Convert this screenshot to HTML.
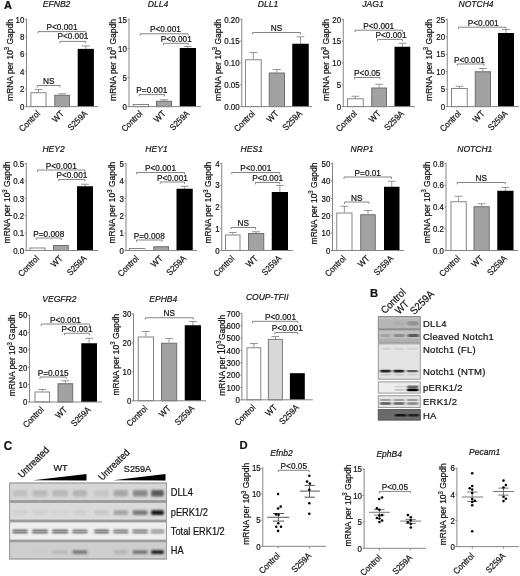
<!DOCTYPE html>
<html><head><meta charset="utf-8"><style>
html,body{margin:0;padding:0;background:#fff;}
svg{display:block;filter:grayscale(1);}
text{font-family:"Liberation Sans", sans-serif;stroke:#1a1a1a;stroke-width:0.22px;paint-order:stroke;}
</style></head><body>
<svg width="520" height="576" viewBox="0 0 520 576" font-family='"Liberation Sans", sans-serif'>
<rect width="520" height="576" fill="#fff"/>
<line x1="38.45" y1="92.20" x2="38.45" y2="89.60" stroke="#8a8a8a" stroke-width="0.9"/>
<line x1="34.55" y1="89.60" x2="42.35" y2="89.60" stroke="#8a8a8a" stroke-width="0.9"/>
<rect x="30.90" y="92.70" width="15.10" height="13.90" fill="#ffffff" stroke="#858585" stroke-width="1"/>
<line x1="62.15" y1="94.80" x2="62.15" y2="93.80" stroke="#8a8a8a" stroke-width="0.9"/>
<line x1="58.25" y1="93.80" x2="66.05" y2="93.80" stroke="#8a8a8a" stroke-width="0.9"/>
<rect x="54.80" y="95.30" width="14.70" height="11.30" fill="#a2a2a2" stroke="#6e6e6e" stroke-width="1"/>
<line x1="85.80" y1="48.90" x2="85.80" y2="45.90" stroke="#8a8a8a" stroke-width="0.9"/>
<line x1="81.90" y1="45.90" x2="89.70" y2="45.90" stroke="#8a8a8a" stroke-width="0.9"/>
<rect x="77.70" y="48.90" width="16.20" height="57.70" fill="#000" stroke="none" stroke-width="1"/>
<line x1="26.50" y1="18.80" x2="26.50" y2="107.10" stroke="#858585" stroke-width="1"/>
<line x1="26.50" y1="106.60" x2="98.00" y2="106.60" stroke="#858585" stroke-width="1"/>
<line x1="25.00" y1="106.60" x2="26.50" y2="106.60" stroke="#858585" stroke-width="1"/>
<text transform="translate(24.40 109.80) scale(0.88 1)" font-size="9.0" text-anchor="end" font-weight="normal" font-style="normal" fill="#111">0</text>
<line x1="25.00" y1="89.14" x2="26.50" y2="89.14" stroke="#858585" stroke-width="1"/>
<text transform="translate(24.40 92.34) scale(0.88 1)" font-size="9.0" text-anchor="end" font-weight="normal" font-style="normal" fill="#111">2</text>
<line x1="25.00" y1="71.68" x2="26.50" y2="71.68" stroke="#858585" stroke-width="1"/>
<text transform="translate(24.40 74.88) scale(0.88 1)" font-size="9.0" text-anchor="end" font-weight="normal" font-style="normal" fill="#111">4</text>
<line x1="25.00" y1="54.22" x2="26.50" y2="54.22" stroke="#858585" stroke-width="1"/>
<text transform="translate(24.40 57.42) scale(0.88 1)" font-size="9.0" text-anchor="end" font-weight="normal" font-style="normal" fill="#111">6</text>
<line x1="25.00" y1="36.76" x2="26.50" y2="36.76" stroke="#858585" stroke-width="1"/>
<text transform="translate(24.40 39.96) scale(0.88 1)" font-size="9.0" text-anchor="end" font-weight="normal" font-style="normal" fill="#111">8</text>
<line x1="25.00" y1="19.30" x2="26.50" y2="19.30" stroke="#858585" stroke-width="1"/>
<text transform="translate(24.40 22.50) scale(0.88 1)" font-size="9.0" text-anchor="end" font-weight="normal" font-style="normal" fill="#111">10</text>
<path d="M37.3 87.3V85.5H60V87.3" fill="none" stroke="#858585" stroke-width="1"/>
<text transform="translate(48.65 84.10) scale(0.95 1)" font-size="8.7" text-anchor="middle" font-weight="normal" font-style="normal" fill="#111">NS</text>
<path d="M38 33.4V31.6H86V33.4" fill="none" stroke="#858585" stroke-width="1"/>
<text transform="translate(62.00 30.00) scale(0.95 1)" font-size="8.7" text-anchor="middle" font-weight="normal" font-style="normal" fill="#111">P&lt;0.001</text>
<path d="M60 43.199999999999996V41.4H85.8V43.199999999999996" fill="none" stroke="#858585" stroke-width="1"/>
<text transform="translate(72.90 39.20) scale(0.95 1)" font-size="8.7" text-anchor="middle" font-weight="normal" font-style="normal" fill="#111">P&lt;0.001</text>
<text transform="translate(56.60 7.00) scale(0.9 1)" font-size="9.5" text-anchor="middle" font-weight="normal" font-style="italic" fill="#111">EFNB2</text>
<text transform="translate(12.50 60.00) rotate(-90) scale(0.9 1)" font-size="9.4" text-anchor="middle" font-weight="normal" font-style="normal" fill="#111">mRNA per 10<tspan font-size="6.6" dy="-3.6">3</tspan><tspan dy="3.6"> Gapdh</tspan></text>
<text transform="translate(40.65 114.20) rotate(-45) scale(0.9 1)" font-size="8.8" text-anchor="end" font-weight="normal" font-style="normal" fill="#111">Control</text>
<text transform="translate(64.35 114.20) rotate(-45) scale(0.9 1)" font-size="8.8" text-anchor="end" font-weight="normal" font-style="normal" fill="#111">WT</text>
<text transform="translate(88.00 114.20) rotate(-45) scale(0.9 1)" font-size="8.8" text-anchor="end" font-weight="normal" font-style="normal" fill="#111">S259A</text>
<rect x="133.25" y="104.50" width="15.25" height="2.10" fill="#ffffff" stroke="#858585" stroke-width="1"/>
<line x1="164.00" y1="100.75" x2="164.00" y2="99.80" stroke="#8a8a8a" stroke-width="0.9"/>
<line x1="160.10" y1="99.80" x2="167.90" y2="99.80" stroke="#8a8a8a" stroke-width="0.9"/>
<rect x="156.50" y="101.25" width="15.00" height="5.35" fill="#a2a2a2" stroke="#6e6e6e" stroke-width="1"/>
<line x1="187.88" y1="48.00" x2="187.88" y2="46.50" stroke="#8a8a8a" stroke-width="0.9"/>
<line x1="183.97" y1="46.50" x2="191.78" y2="46.50" stroke="#8a8a8a" stroke-width="0.9"/>
<rect x="179.75" y="48.00" width="16.25" height="58.60" fill="#000" stroke="none" stroke-width="1"/>
<line x1="129.00" y1="18.80" x2="129.00" y2="107.10" stroke="#858585" stroke-width="1"/>
<line x1="129.00" y1="106.60" x2="201.00" y2="106.60" stroke="#858585" stroke-width="1"/>
<line x1="127.50" y1="106.60" x2="129.00" y2="106.60" stroke="#858585" stroke-width="1"/>
<text transform="translate(126.90 109.80) scale(0.88 1)" font-size="9.0" text-anchor="end" font-weight="normal" font-style="normal" fill="#111">0</text>
<line x1="127.50" y1="77.50" x2="129.00" y2="77.50" stroke="#858585" stroke-width="1"/>
<text transform="translate(126.90 80.70) scale(0.88 1)" font-size="9.0" text-anchor="end" font-weight="normal" font-style="normal" fill="#111">5</text>
<line x1="127.50" y1="48.40" x2="129.00" y2="48.40" stroke="#858585" stroke-width="1"/>
<text transform="translate(126.90 51.60) scale(0.88 1)" font-size="9.0" text-anchor="end" font-weight="normal" font-style="normal" fill="#111">10</text>
<line x1="127.50" y1="19.30" x2="129.00" y2="19.30" stroke="#858585" stroke-width="1"/>
<text transform="translate(126.90 22.50) scale(0.88 1)" font-size="9.0" text-anchor="end" font-weight="normal" font-style="normal" fill="#111">15</text>
<path d="M139.2 96.39999999999999V94.6H164.5V96.39999999999999" fill="none" stroke="#858585" stroke-width="1"/>
<text transform="translate(151.85 93.20) scale(0.95 1)" font-size="8.7" text-anchor="middle" font-weight="normal" font-style="normal" fill="#111">P=0.001</text>
<path d="M140.3 35.599999999999994V33.8H188.2V35.599999999999994" fill="none" stroke="#858585" stroke-width="1"/>
<text transform="translate(165.40 32.40) scale(0.95 1)" font-size="8.7" text-anchor="middle" font-weight="normal" font-style="normal" fill="#111">P&lt;0.001</text>
<path d="M163.5 45.099999999999994V43.3H188.2V45.099999999999994" fill="none" stroke="#858585" stroke-width="1"/>
<text transform="translate(176.30 41.90) scale(0.95 1)" font-size="8.7" text-anchor="middle" font-weight="normal" font-style="normal" fill="#111">P&lt;0.001</text>
<text transform="translate(158.00 7.00) scale(0.9 1)" font-size="9.5" text-anchor="middle" font-weight="normal" font-style="italic" fill="#111">DLL4</text>
<text transform="translate(116.00 60.00) rotate(-90) scale(0.9 1)" font-size="9.4" text-anchor="middle" font-weight="normal" font-style="normal" fill="#111">mRNA per 10<tspan font-size="6.6" dy="-3.6">3</tspan><tspan dy="3.6"> Gapdh</tspan></text>
<text transform="translate(143.07 114.20) rotate(-45) scale(0.9 1)" font-size="8.8" text-anchor="end" font-weight="normal" font-style="normal" fill="#111">Control</text>
<text transform="translate(166.20 114.20) rotate(-45) scale(0.9 1)" font-size="8.8" text-anchor="end" font-weight="normal" font-style="normal" fill="#111">WT</text>
<text transform="translate(190.07 114.20) rotate(-45) scale(0.9 1)" font-size="8.8" text-anchor="end" font-weight="normal" font-style="normal" fill="#111">S259A</text>
<line x1="253.38" y1="59.25" x2="253.38" y2="52.50" stroke="#8a8a8a" stroke-width="0.9"/>
<line x1="249.47" y1="52.50" x2="257.27" y2="52.50" stroke="#8a8a8a" stroke-width="0.9"/>
<rect x="245.50" y="59.75" width="15.75" height="46.85" fill="#ffffff" stroke="#858585" stroke-width="1"/>
<line x1="276.88" y1="72.50" x2="276.88" y2="69.50" stroke="#8a8a8a" stroke-width="0.9"/>
<line x1="272.98" y1="69.50" x2="280.77" y2="69.50" stroke="#8a8a8a" stroke-width="0.9"/>
<rect x="269.25" y="73.00" width="15.25" height="33.60" fill="#a2a2a2" stroke="#6e6e6e" stroke-width="1"/>
<line x1="300.50" y1="43.75" x2="300.50" y2="36.75" stroke="#8a8a8a" stroke-width="0.9"/>
<line x1="296.60" y1="36.75" x2="304.40" y2="36.75" stroke="#8a8a8a" stroke-width="0.9"/>
<rect x="292.25" y="43.75" width="16.50" height="62.85" fill="#000" stroke="none" stroke-width="1"/>
<line x1="241.75" y1="18.80" x2="241.75" y2="107.10" stroke="#858585" stroke-width="1"/>
<line x1="241.75" y1="106.60" x2="312.00" y2="106.60" stroke="#858585" stroke-width="1"/>
<line x1="240.25" y1="106.60" x2="241.75" y2="106.60" stroke="#858585" stroke-width="1"/>
<text transform="translate(239.65 109.80) scale(0.88 1)" font-size="9.0" text-anchor="end" font-weight="normal" font-style="normal" fill="#111">0.00</text>
<line x1="240.25" y1="84.77" x2="241.75" y2="84.77" stroke="#858585" stroke-width="1"/>
<text transform="translate(239.65 87.97) scale(0.88 1)" font-size="9.0" text-anchor="end" font-weight="normal" font-style="normal" fill="#111">0.05</text>
<line x1="240.25" y1="62.95" x2="241.75" y2="62.95" stroke="#858585" stroke-width="1"/>
<text transform="translate(239.65 66.15) scale(0.88 1)" font-size="9.0" text-anchor="end" font-weight="normal" font-style="normal" fill="#111">0.10</text>
<line x1="240.25" y1="41.12" x2="241.75" y2="41.12" stroke="#858585" stroke-width="1"/>
<text transform="translate(239.65 44.33) scale(0.88 1)" font-size="9.0" text-anchor="end" font-weight="normal" font-style="normal" fill="#111">0.15</text>
<line x1="240.25" y1="19.30" x2="241.75" y2="19.30" stroke="#858585" stroke-width="1"/>
<text transform="translate(239.65 22.50) scale(0.88 1)" font-size="9.0" text-anchor="end" font-weight="normal" font-style="normal" fill="#111">0.20</text>
<path d="M252.5 34.3V32.5H300.5V34.3" fill="none" stroke="#858585" stroke-width="1"/>
<text transform="translate(276.50 31.10) scale(0.95 1)" font-size="8.7" text-anchor="middle" font-weight="normal" font-style="normal" fill="#111">NS</text>
<text transform="translate(268.00 7.00) scale(0.9 1)" font-size="9.5" text-anchor="middle" font-weight="normal" font-style="italic" fill="#111">DLL1</text>
<text transform="translate(221.00 60.00) rotate(-90) scale(0.9 1)" font-size="9.4" text-anchor="middle" font-weight="normal" font-style="normal" fill="#111">mRNA per 10<tspan font-size="6.6" dy="-3.6">3</tspan><tspan dy="3.6"> Gapdh</tspan></text>
<text transform="translate(255.57 114.20) rotate(-45) scale(0.9 1)" font-size="8.8" text-anchor="end" font-weight="normal" font-style="normal" fill="#111">Control</text>
<text transform="translate(279.07 114.20) rotate(-45) scale(0.9 1)" font-size="8.8" text-anchor="end" font-weight="normal" font-style="normal" fill="#111">WT</text>
<text transform="translate(302.70 114.20) rotate(-45) scale(0.9 1)" font-size="8.8" text-anchor="end" font-weight="normal" font-style="normal" fill="#111">S259A</text>
<line x1="355.38" y1="98.25" x2="355.38" y2="96.25" stroke="#8a8a8a" stroke-width="0.9"/>
<line x1="351.48" y1="96.25" x2="359.27" y2="96.25" stroke="#8a8a8a" stroke-width="0.9"/>
<rect x="347.50" y="98.75" width="15.75" height="7.85" fill="#ffffff" stroke="#858585" stroke-width="1"/>
<line x1="379.12" y1="87.50" x2="379.12" y2="84.25" stroke="#8a8a8a" stroke-width="0.9"/>
<line x1="375.23" y1="84.25" x2="383.02" y2="84.25" stroke="#8a8a8a" stroke-width="0.9"/>
<rect x="371.75" y="88.00" width="14.75" height="18.60" fill="#a2a2a2" stroke="#6e6e6e" stroke-width="1"/>
<line x1="402.38" y1="46.75" x2="402.38" y2="43.25" stroke="#8a8a8a" stroke-width="0.9"/>
<line x1="398.48" y1="43.25" x2="406.27" y2="43.25" stroke="#8a8a8a" stroke-width="0.9"/>
<rect x="394.50" y="46.75" width="15.75" height="59.85" fill="#000" stroke="none" stroke-width="1"/>
<line x1="343.25" y1="18.80" x2="343.25" y2="107.10" stroke="#858585" stroke-width="1"/>
<line x1="343.25" y1="106.60" x2="415.00" y2="106.60" stroke="#858585" stroke-width="1"/>
<line x1="341.75" y1="106.60" x2="343.25" y2="106.60" stroke="#858585" stroke-width="1"/>
<text transform="translate(341.15 109.80) scale(0.88 1)" font-size="9.0" text-anchor="end" font-weight="normal" font-style="normal" fill="#111">0</text>
<line x1="341.75" y1="84.77" x2="343.25" y2="84.77" stroke="#858585" stroke-width="1"/>
<text transform="translate(341.15 87.97) scale(0.88 1)" font-size="9.0" text-anchor="end" font-weight="normal" font-style="normal" fill="#111">5</text>
<line x1="341.75" y1="62.95" x2="343.25" y2="62.95" stroke="#858585" stroke-width="1"/>
<text transform="translate(341.15 66.15) scale(0.88 1)" font-size="9.0" text-anchor="end" font-weight="normal" font-style="normal" fill="#111">10</text>
<line x1="341.75" y1="41.12" x2="343.25" y2="41.12" stroke="#858585" stroke-width="1"/>
<text transform="translate(341.15 44.33) scale(0.88 1)" font-size="9.0" text-anchor="end" font-weight="normal" font-style="normal" fill="#111">15</text>
<line x1="341.75" y1="19.30" x2="343.25" y2="19.30" stroke="#858585" stroke-width="1"/>
<text transform="translate(341.15 22.50) scale(0.88 1)" font-size="9.0" text-anchor="end" font-weight="normal" font-style="normal" fill="#111">20</text>
<path d="M354.5 79.3V77.5H380V79.3" fill="none" stroke="#858585" stroke-width="1"/>
<text transform="translate(367.25 76.10) scale(0.95 1)" font-size="8.7" text-anchor="middle" font-weight="normal" font-style="normal" fill="#111">P&lt;0.05</text>
<path d="M355 32.0V30.2H402.4V32.0" fill="none" stroke="#858585" stroke-width="1"/>
<text transform="translate(378.70 28.80) scale(0.95 1)" font-size="8.7" text-anchor="middle" font-weight="normal" font-style="normal" fill="#111">P&lt;0.001</text>
<path d="M377.5 41.199999999999996V39.4H402.4V41.199999999999996" fill="none" stroke="#858585" stroke-width="1"/>
<text transform="translate(391.00 38.00) scale(0.95 1)" font-size="8.7" text-anchor="middle" font-weight="normal" font-style="normal" fill="#111">P&lt;0.001</text>
<text transform="translate(373.00 7.00) scale(0.9 1)" font-size="9.5" text-anchor="middle" font-weight="normal" font-style="italic" fill="#111">JAG1</text>
<text transform="translate(329.20 60.00) rotate(-90) scale(0.9 1)" font-size="9.4" text-anchor="middle" font-weight="normal" font-style="normal" fill="#111">mRNA per 10<tspan font-size="6.6" dy="-3.6">3</tspan><tspan dy="3.6"> Gapdh</tspan></text>
<text transform="translate(357.57 114.20) rotate(-45) scale(0.9 1)" font-size="8.8" text-anchor="end" font-weight="normal" font-style="normal" fill="#111">Control</text>
<text transform="translate(381.32 114.20) rotate(-45) scale(0.9 1)" font-size="8.8" text-anchor="end" font-weight="normal" font-style="normal" fill="#111">WT</text>
<text transform="translate(404.57 114.20) rotate(-45) scale(0.9 1)" font-size="8.8" text-anchor="end" font-weight="normal" font-style="normal" fill="#111">S259A</text>
<line x1="459.38" y1="88.00" x2="459.38" y2="86.25" stroke="#8a8a8a" stroke-width="0.9"/>
<line x1="455.48" y1="86.25" x2="463.27" y2="86.25" stroke="#8a8a8a" stroke-width="0.9"/>
<rect x="451.50" y="88.50" width="15.75" height="18.10" fill="#ffffff" stroke="#858585" stroke-width="1"/>
<line x1="482.88" y1="71.25" x2="482.88" y2="68.50" stroke="#8a8a8a" stroke-width="0.9"/>
<line x1="478.98" y1="68.50" x2="486.77" y2="68.50" stroke="#8a8a8a" stroke-width="0.9"/>
<rect x="475.25" y="71.75" width="15.25" height="34.85" fill="#a2a2a2" stroke="#6e6e6e" stroke-width="1"/>
<line x1="506.00" y1="33.00" x2="506.00" y2="29.50" stroke="#8a8a8a" stroke-width="0.9"/>
<line x1="502.10" y1="29.50" x2="509.90" y2="29.50" stroke="#8a8a8a" stroke-width="0.9"/>
<rect x="498.00" y="33.00" width="16.00" height="73.60" fill="#000" stroke="none" stroke-width="1"/>
<line x1="447.25" y1="18.80" x2="447.25" y2="107.10" stroke="#858585" stroke-width="1"/>
<line x1="447.25" y1="106.60" x2="519.00" y2="106.60" stroke="#858585" stroke-width="1"/>
<line x1="445.75" y1="106.60" x2="447.25" y2="106.60" stroke="#858585" stroke-width="1"/>
<text transform="translate(445.15 109.80) scale(0.88 1)" font-size="9.0" text-anchor="end" font-weight="normal" font-style="normal" fill="#111">0</text>
<line x1="445.75" y1="89.14" x2="447.25" y2="89.14" stroke="#858585" stroke-width="1"/>
<text transform="translate(445.15 92.34) scale(0.88 1)" font-size="9.0" text-anchor="end" font-weight="normal" font-style="normal" fill="#111">5</text>
<line x1="445.75" y1="71.68" x2="447.25" y2="71.68" stroke="#858585" stroke-width="1"/>
<text transform="translate(445.15 74.88) scale(0.88 1)" font-size="9.0" text-anchor="end" font-weight="normal" font-style="normal" fill="#111">10</text>
<line x1="445.75" y1="54.22" x2="447.25" y2="54.22" stroke="#858585" stroke-width="1"/>
<text transform="translate(445.15 57.42) scale(0.88 1)" font-size="9.0" text-anchor="end" font-weight="normal" font-style="normal" fill="#111">15</text>
<line x1="445.75" y1="36.76" x2="447.25" y2="36.76" stroke="#858585" stroke-width="1"/>
<text transform="translate(445.15 39.96) scale(0.88 1)" font-size="9.0" text-anchor="end" font-weight="normal" font-style="normal" fill="#111">20</text>
<line x1="445.75" y1="19.30" x2="447.25" y2="19.30" stroke="#858585" stroke-width="1"/>
<text transform="translate(445.15 22.50) scale(0.88 1)" font-size="9.0" text-anchor="end" font-weight="normal" font-style="normal" fill="#111">25</text>
<path d="M457.25 65.8V64.0H484V65.8" fill="none" stroke="#858585" stroke-width="1"/>
<text transform="translate(469.40 62.60) scale(0.95 1)" font-size="8.7" text-anchor="middle" font-weight="normal" font-style="normal" fill="#111">P&lt;0.001</text>
<path d="M458.5 29.0V27.2H506V29.0" fill="none" stroke="#858585" stroke-width="1"/>
<text transform="translate(483.20 25.80) scale(0.95 1)" font-size="8.7" text-anchor="middle" font-weight="normal" font-style="normal" fill="#111">P&lt;0.001</text>
<text transform="translate(476.00 7.00) scale(0.9 1)" font-size="9.5" text-anchor="middle" font-weight="normal" font-style="italic" fill="#111">NOTCH4</text>
<text transform="translate(431.70 60.00) rotate(-90) scale(0.9 1)" font-size="9.4" text-anchor="middle" font-weight="normal" font-style="normal" fill="#111">mRNA per 10<tspan font-size="6.6" dy="-3.6">3</tspan><tspan dy="3.6"> Gapdh</tspan></text>
<text transform="translate(461.57 114.20) rotate(-45) scale(0.9 1)" font-size="8.8" text-anchor="end" font-weight="normal" font-style="normal" fill="#111">Control</text>
<text transform="translate(485.07 114.20) rotate(-45) scale(0.9 1)" font-size="8.8" text-anchor="end" font-weight="normal" font-style="normal" fill="#111">WT</text>
<text transform="translate(508.20 114.20) rotate(-45) scale(0.9 1)" font-size="8.8" text-anchor="end" font-weight="normal" font-style="normal" fill="#111">S259A</text>
<rect x="30.00" y="248.00" width="15.00" height="2.50" fill="#ffffff" stroke="#858585" stroke-width="1"/>
<rect x="53.50" y="245.50" width="14.75" height="5.00" fill="#a2a2a2" stroke="#6e6e6e" stroke-width="1"/>
<line x1="85.00" y1="186.25" x2="85.00" y2="184.25" stroke="#8a8a8a" stroke-width="0.9"/>
<line x1="81.10" y1="184.25" x2="88.90" y2="184.25" stroke="#8a8a8a" stroke-width="0.9"/>
<rect x="77.00" y="186.25" width="16.00" height="64.25" fill="#000" stroke="none" stroke-width="1"/>
<line x1="26.25" y1="163.00" x2="26.25" y2="251.00" stroke="#858585" stroke-width="1"/>
<line x1="26.25" y1="250.50" x2="98.00" y2="250.50" stroke="#858585" stroke-width="1"/>
<line x1="24.75" y1="250.50" x2="26.25" y2="250.50" stroke="#858585" stroke-width="1"/>
<text transform="translate(24.15 253.70) scale(0.88 1)" font-size="9.0" text-anchor="end" font-weight="normal" font-style="normal" fill="#111">0.0</text>
<line x1="24.75" y1="233.10" x2="26.25" y2="233.10" stroke="#858585" stroke-width="1"/>
<text transform="translate(24.15 236.30) scale(0.88 1)" font-size="9.0" text-anchor="end" font-weight="normal" font-style="normal" fill="#111">0.1</text>
<line x1="24.75" y1="215.70" x2="26.25" y2="215.70" stroke="#858585" stroke-width="1"/>
<text transform="translate(24.15 218.90) scale(0.88 1)" font-size="9.0" text-anchor="end" font-weight="normal" font-style="normal" fill="#111">0.2</text>
<line x1="24.75" y1="198.30" x2="26.25" y2="198.30" stroke="#858585" stroke-width="1"/>
<text transform="translate(24.15 201.50) scale(0.88 1)" font-size="9.0" text-anchor="end" font-weight="normal" font-style="normal" fill="#111">0.3</text>
<line x1="24.75" y1="180.90" x2="26.25" y2="180.90" stroke="#858585" stroke-width="1"/>
<text transform="translate(24.15 184.10) scale(0.88 1)" font-size="9.0" text-anchor="end" font-weight="normal" font-style="normal" fill="#111">0.4</text>
<line x1="24.75" y1="163.50" x2="26.25" y2="163.50" stroke="#858585" stroke-width="1"/>
<text transform="translate(24.15 166.70) scale(0.88 1)" font-size="9.0" text-anchor="end" font-weight="normal" font-style="normal" fill="#111">0.5</text>
<path d="M36.25 239.8V238H61.25V239.8" fill="none" stroke="#858585" stroke-width="1"/>
<text transform="translate(48.75 236.60) scale(0.95 1)" font-size="8.7" text-anchor="middle" font-weight="normal" font-style="normal" fill="#111">P=0.008</text>
<path d="M37.5 171.8V170H85V171.8" fill="none" stroke="#858585" stroke-width="1"/>
<text transform="translate(61.25 168.60) scale(0.95 1)" font-size="8.7" text-anchor="middle" font-weight="normal" font-style="normal" fill="#111">P&lt;0.001</text>
<path d="M58.75 181.3V179.5H85V181.3" fill="none" stroke="#858585" stroke-width="1"/>
<text transform="translate(71.88 178.10) scale(0.95 1)" font-size="8.7" text-anchor="middle" font-weight="normal" font-style="normal" fill="#111">P&lt;0.001</text>
<text transform="translate(53.60 151.80) scale(0.9 1)" font-size="9.5" text-anchor="middle" font-weight="normal" font-style="italic" fill="#111">HEY2</text>
<text transform="translate(10.40 202.50) rotate(-90) scale(0.9 1)" font-size="9.4" text-anchor="middle" font-weight="normal" font-style="normal" fill="#111">mRNA per 10<tspan font-size="6.6" dy="-3.6">3</tspan><tspan dy="3.6"> Gapdh</tspan></text>
<text transform="translate(39.70 259.10) rotate(-45) scale(0.9 1)" font-size="8.8" text-anchor="end" font-weight="normal" font-style="normal" fill="#111">Control</text>
<text transform="translate(63.08 259.10) rotate(-45) scale(0.9 1)" font-size="8.8" text-anchor="end" font-weight="normal" font-style="normal" fill="#111">WT</text>
<text transform="translate(87.20 259.10) rotate(-45) scale(0.9 1)" font-size="8.8" text-anchor="end" font-weight="normal" font-style="normal" fill="#111">S259A</text>
<rect x="129.50" y="248.50" width="15.25" height="2.00" fill="#ffffff" stroke="#858585" stroke-width="1"/>
<rect x="153.75" y="246.75" width="14.75" height="3.75" fill="#a2a2a2" stroke="#6e6e6e" stroke-width="1"/>
<line x1="184.62" y1="188.75" x2="184.62" y2="186.25" stroke="#8a8a8a" stroke-width="0.9"/>
<line x1="180.72" y1="186.25" x2="188.53" y2="186.25" stroke="#8a8a8a" stroke-width="0.9"/>
<rect x="176.50" y="188.75" width="16.25" height="61.75" fill="#000" stroke="none" stroke-width="1"/>
<line x1="126.00" y1="163.00" x2="126.00" y2="251.00" stroke="#858585" stroke-width="1"/>
<line x1="126.00" y1="250.50" x2="197.00" y2="250.50" stroke="#858585" stroke-width="1"/>
<line x1="124.50" y1="250.50" x2="126.00" y2="250.50" stroke="#858585" stroke-width="1"/>
<text transform="translate(123.90 253.70) scale(0.88 1)" font-size="9.0" text-anchor="end" font-weight="normal" font-style="normal" fill="#111">0</text>
<line x1="124.50" y1="233.10" x2="126.00" y2="233.10" stroke="#858585" stroke-width="1"/>
<text transform="translate(123.90 236.30) scale(0.88 1)" font-size="9.0" text-anchor="end" font-weight="normal" font-style="normal" fill="#111">1</text>
<line x1="124.50" y1="215.70" x2="126.00" y2="215.70" stroke="#858585" stroke-width="1"/>
<text transform="translate(123.90 218.90) scale(0.88 1)" font-size="9.0" text-anchor="end" font-weight="normal" font-style="normal" fill="#111">2</text>
<line x1="124.50" y1="198.30" x2="126.00" y2="198.30" stroke="#858585" stroke-width="1"/>
<text transform="translate(123.90 201.50) scale(0.88 1)" font-size="9.0" text-anchor="end" font-weight="normal" font-style="normal" fill="#111">3</text>
<line x1="124.50" y1="180.90" x2="126.00" y2="180.90" stroke="#858585" stroke-width="1"/>
<text transform="translate(123.90 184.10) scale(0.88 1)" font-size="9.0" text-anchor="end" font-weight="normal" font-style="normal" fill="#111">4</text>
<line x1="124.50" y1="163.50" x2="126.00" y2="163.50" stroke="#858585" stroke-width="1"/>
<text transform="translate(123.90 166.70) scale(0.88 1)" font-size="9.0" text-anchor="end" font-weight="normal" font-style="normal" fill="#111">5</text>
<path d="M136.5 241.8V240H162V241.8" fill="none" stroke="#858585" stroke-width="1"/>
<text transform="translate(149.25 238.60) scale(0.95 1)" font-size="8.7" text-anchor="middle" font-weight="normal" font-style="normal" fill="#111">P=0.008</text>
<path d="M136.5 174.3V172.5H184.5V174.3" fill="none" stroke="#858585" stroke-width="1"/>
<text transform="translate(160.50 171.10) scale(0.95 1)" font-size="8.7" text-anchor="middle" font-weight="normal" font-style="normal" fill="#111">P&lt;0.001</text>
<path d="M160.25 183.8V182H184.5V183.8" fill="none" stroke="#858585" stroke-width="1"/>
<text transform="translate(172.38 180.60) scale(0.95 1)" font-size="8.7" text-anchor="middle" font-weight="normal" font-style="normal" fill="#111">P&lt;0.001</text>
<text transform="translate(156.50 151.80) scale(0.9 1)" font-size="9.5" text-anchor="middle" font-weight="normal" font-style="italic" fill="#111">HEY1</text>
<text transform="translate(115.20 202.60) rotate(-90) scale(0.9 1)" font-size="9.4" text-anchor="middle" font-weight="normal" font-style="normal" fill="#111">mRNA per 10<tspan font-size="6.6" dy="-3.6">3</tspan><tspan dy="3.6"> Gapdh</tspan></text>
<text transform="translate(139.32 259.10) rotate(-45) scale(0.9 1)" font-size="8.8" text-anchor="end" font-weight="normal" font-style="normal" fill="#111">Control</text>
<text transform="translate(163.32 259.10) rotate(-45) scale(0.9 1)" font-size="8.8" text-anchor="end" font-weight="normal" font-style="normal" fill="#111">WT</text>
<text transform="translate(186.82 259.10) rotate(-45) scale(0.9 1)" font-size="8.8" text-anchor="end" font-weight="normal" font-style="normal" fill="#111">S259A</text>
<line x1="232.75" y1="234.50" x2="232.75" y2="232.50" stroke="#8a8a8a" stroke-width="0.9"/>
<line x1="228.85" y1="232.50" x2="236.65" y2="232.50" stroke="#8a8a8a" stroke-width="0.9"/>
<rect x="225.50" y="235.00" width="14.50" height="15.50" fill="#ffffff" stroke="#858585" stroke-width="1"/>
<line x1="256.12" y1="233.00" x2="256.12" y2="231.75" stroke="#8a8a8a" stroke-width="0.9"/>
<line x1="252.22" y1="231.75" x2="260.02" y2="231.75" stroke="#8a8a8a" stroke-width="0.9"/>
<rect x="248.50" y="233.50" width="15.25" height="17.00" fill="#a2a2a2" stroke="#6e6e6e" stroke-width="1"/>
<line x1="279.88" y1="192.00" x2="279.88" y2="185.50" stroke="#8a8a8a" stroke-width="0.9"/>
<line x1="275.98" y1="185.50" x2="283.77" y2="185.50" stroke="#8a8a8a" stroke-width="0.9"/>
<rect x="271.75" y="192.00" width="16.25" height="58.50" fill="#000" stroke="none" stroke-width="1"/>
<line x1="221.75" y1="163.00" x2="221.75" y2="251.00" stroke="#858585" stroke-width="1"/>
<line x1="221.75" y1="250.50" x2="293.00" y2="250.50" stroke="#858585" stroke-width="1"/>
<line x1="220.25" y1="250.50" x2="221.75" y2="250.50" stroke="#858585" stroke-width="1"/>
<text transform="translate(219.65 253.70) scale(0.88 1)" font-size="9.0" text-anchor="end" font-weight="normal" font-style="normal" fill="#111">0</text>
<line x1="220.25" y1="228.75" x2="221.75" y2="228.75" stroke="#858585" stroke-width="1"/>
<text transform="translate(219.65 231.95) scale(0.88 1)" font-size="9.0" text-anchor="end" font-weight="normal" font-style="normal" fill="#111">1</text>
<line x1="220.25" y1="207.00" x2="221.75" y2="207.00" stroke="#858585" stroke-width="1"/>
<text transform="translate(219.65 210.20) scale(0.88 1)" font-size="9.0" text-anchor="end" font-weight="normal" font-style="normal" fill="#111">2</text>
<line x1="220.25" y1="185.25" x2="221.75" y2="185.25" stroke="#858585" stroke-width="1"/>
<text transform="translate(219.65 188.45) scale(0.88 1)" font-size="9.0" text-anchor="end" font-weight="normal" font-style="normal" fill="#111">3</text>
<line x1="220.25" y1="163.50" x2="221.75" y2="163.50" stroke="#858585" stroke-width="1"/>
<text transform="translate(219.65 166.70) scale(0.88 1)" font-size="9.0" text-anchor="end" font-weight="normal" font-style="normal" fill="#111">4</text>
<path d="M231 229.3V227.5H255.5V229.3" fill="none" stroke="#858585" stroke-width="1"/>
<text transform="translate(243.25 226.10) scale(0.95 1)" font-size="8.7" text-anchor="middle" font-weight="normal" font-style="normal" fill="#111">NS</text>
<path d="M231.75 174.3V172.5H279.75V174.3" fill="none" stroke="#858585" stroke-width="1"/>
<text transform="translate(255.75 171.10) scale(0.95 1)" font-size="8.7" text-anchor="middle" font-weight="normal" font-style="normal" fill="#111">P&lt;0.001</text>
<path d="M255.5 184.3V182.5H279.75V184.3" fill="none" stroke="#858585" stroke-width="1"/>
<text transform="translate(267.62 181.10) scale(0.95 1)" font-size="8.7" text-anchor="middle" font-weight="normal" font-style="normal" fill="#111">P&lt;0.001</text>
<text transform="translate(251.75 151.80) scale(0.9 1)" font-size="9.5" text-anchor="middle" font-weight="normal" font-style="italic" fill="#111">HES1</text>
<text transform="translate(211.10 202.60) rotate(-90) scale(0.9 1)" font-size="9.4" text-anchor="middle" font-weight="normal" font-style="normal" fill="#111">mRNA per 10<tspan font-size="6.6" dy="-3.6">3</tspan><tspan dy="3.6"> Gapdh</tspan></text>
<text transform="translate(234.95 259.10) rotate(-45) scale(0.9 1)" font-size="8.8" text-anchor="end" font-weight="normal" font-style="normal" fill="#111">Control</text>
<text transform="translate(258.32 259.10) rotate(-45) scale(0.9 1)" font-size="8.8" text-anchor="end" font-weight="normal" font-style="normal" fill="#111">WT</text>
<text transform="translate(282.07 259.10) rotate(-45) scale(0.9 1)" font-size="8.8" text-anchor="end" font-weight="normal" font-style="normal" fill="#111">S259A</text>
<line x1="344.38" y1="212.50" x2="344.38" y2="206.25" stroke="#8a8a8a" stroke-width="0.9"/>
<line x1="340.48" y1="206.25" x2="348.27" y2="206.25" stroke="#8a8a8a" stroke-width="0.9"/>
<rect x="336.75" y="213.00" width="15.25" height="37.50" fill="#ffffff" stroke="#858585" stroke-width="1"/>
<line x1="368.00" y1="214.25" x2="368.00" y2="210.50" stroke="#8a8a8a" stroke-width="0.9"/>
<line x1="364.10" y1="210.50" x2="371.90" y2="210.50" stroke="#8a8a8a" stroke-width="0.9"/>
<rect x="360.75" y="214.75" width="14.50" height="35.75" fill="#a2a2a2" stroke="#6e6e6e" stroke-width="1"/>
<line x1="391.75" y1="186.75" x2="391.75" y2="181.25" stroke="#8a8a8a" stroke-width="0.9"/>
<line x1="387.85" y1="181.25" x2="395.65" y2="181.25" stroke="#8a8a8a" stroke-width="0.9"/>
<rect x="384.00" y="186.75" width="15.50" height="63.75" fill="#000" stroke="none" stroke-width="1"/>
<line x1="332.50" y1="163.00" x2="332.50" y2="251.00" stroke="#858585" stroke-width="1"/>
<line x1="332.50" y1="250.50" x2="404.00" y2="250.50" stroke="#858585" stroke-width="1"/>
<line x1="331.00" y1="250.50" x2="332.50" y2="250.50" stroke="#858585" stroke-width="1"/>
<text transform="translate(330.40 253.70) scale(0.88 1)" font-size="9.0" text-anchor="end" font-weight="normal" font-style="normal" fill="#111">0</text>
<line x1="331.00" y1="233.10" x2="332.50" y2="233.10" stroke="#858585" stroke-width="1"/>
<text transform="translate(330.40 236.30) scale(0.88 1)" font-size="9.0" text-anchor="end" font-weight="normal" font-style="normal" fill="#111">10</text>
<line x1="331.00" y1="215.70" x2="332.50" y2="215.70" stroke="#858585" stroke-width="1"/>
<text transform="translate(330.40 218.90) scale(0.88 1)" font-size="9.0" text-anchor="end" font-weight="normal" font-style="normal" fill="#111">20</text>
<line x1="331.00" y1="198.30" x2="332.50" y2="198.30" stroke="#858585" stroke-width="1"/>
<text transform="translate(330.40 201.50) scale(0.88 1)" font-size="9.0" text-anchor="end" font-weight="normal" font-style="normal" fill="#111">30</text>
<line x1="331.00" y1="180.90" x2="332.50" y2="180.90" stroke="#858585" stroke-width="1"/>
<text transform="translate(330.40 184.10) scale(0.88 1)" font-size="9.0" text-anchor="end" font-weight="normal" font-style="normal" fill="#111">40</text>
<line x1="331.00" y1="163.50" x2="332.50" y2="163.50" stroke="#858585" stroke-width="1"/>
<text transform="translate(330.40 166.70) scale(0.88 1)" font-size="9.0" text-anchor="end" font-weight="normal" font-style="normal" fill="#111">50</text>
<path d="M344.5 203.8V202H369V203.8" fill="none" stroke="#858585" stroke-width="1"/>
<text transform="translate(356.75 200.60) scale(0.95 1)" font-size="8.7" text-anchor="middle" font-weight="normal" font-style="normal" fill="#111">NS</text>
<path d="M344 178.8V177H391.5V178.8" fill="none" stroke="#858585" stroke-width="1"/>
<text transform="translate(367.75 175.60) scale(0.95 1)" font-size="8.7" text-anchor="middle" font-weight="normal" font-style="normal" fill="#111">P=0.01</text>
<text transform="translate(362.00 151.80) scale(0.9 1)" font-size="9.5" text-anchor="middle" font-weight="normal" font-style="italic" fill="#111">NRP1</text>
<text transform="translate(316.80 203.50) rotate(-90) scale(0.9 1)" font-size="9.4" text-anchor="middle" font-weight="normal" font-style="normal" fill="#111">mRNA per 10<tspan font-size="6.6" dy="-3.6">3</tspan><tspan dy="3.6"> Gapdh</tspan></text>
<text transform="translate(346.57 259.10) rotate(-45) scale(0.9 1)" font-size="8.8" text-anchor="end" font-weight="normal" font-style="normal" fill="#111">Control</text>
<text transform="translate(370.20 259.10) rotate(-45) scale(0.9 1)" font-size="8.8" text-anchor="end" font-weight="normal" font-style="normal" fill="#111">WT</text>
<text transform="translate(393.95 259.10) rotate(-45) scale(0.9 1)" font-size="8.8" text-anchor="end" font-weight="normal" font-style="normal" fill="#111">S259A</text>
<line x1="458.62" y1="201.25" x2="458.62" y2="196.25" stroke="#8a8a8a" stroke-width="0.9"/>
<line x1="454.73" y1="196.25" x2="462.52" y2="196.25" stroke="#8a8a8a" stroke-width="0.9"/>
<rect x="451.00" y="201.75" width="15.25" height="48.75" fill="#ffffff" stroke="#858585" stroke-width="1"/>
<line x1="481.62" y1="206.25" x2="481.62" y2="203.75" stroke="#8a8a8a" stroke-width="0.9"/>
<line x1="477.73" y1="203.75" x2="485.52" y2="203.75" stroke="#8a8a8a" stroke-width="0.9"/>
<rect x="474.00" y="206.75" width="15.25" height="43.75" fill="#a2a2a2" stroke="#6e6e6e" stroke-width="1"/>
<line x1="505.38" y1="190.75" x2="505.38" y2="187.50" stroke="#8a8a8a" stroke-width="0.9"/>
<line x1="501.48" y1="187.50" x2="509.27" y2="187.50" stroke="#8a8a8a" stroke-width="0.9"/>
<rect x="497.25" y="190.75" width="16.25" height="59.75" fill="#000" stroke="none" stroke-width="1"/>
<line x1="446.00" y1="163.00" x2="446.00" y2="251.00" stroke="#858585" stroke-width="1"/>
<line x1="446.00" y1="250.50" x2="518.00" y2="250.50" stroke="#858585" stroke-width="1"/>
<line x1="444.50" y1="250.50" x2="446.00" y2="250.50" stroke="#858585" stroke-width="1"/>
<text transform="translate(443.90 253.70) scale(0.88 1)" font-size="9.0" text-anchor="end" font-weight="normal" font-style="normal" fill="#111">0.0</text>
<line x1="444.50" y1="228.75" x2="446.00" y2="228.75" stroke="#858585" stroke-width="1"/>
<text transform="translate(443.90 231.95) scale(0.88 1)" font-size="9.0" text-anchor="end" font-weight="normal" font-style="normal" fill="#111">0.2</text>
<line x1="444.50" y1="207.00" x2="446.00" y2="207.00" stroke="#858585" stroke-width="1"/>
<text transform="translate(443.90 210.20) scale(0.88 1)" font-size="9.0" text-anchor="end" font-weight="normal" font-style="normal" fill="#111">0.4</text>
<line x1="444.50" y1="185.25" x2="446.00" y2="185.25" stroke="#858585" stroke-width="1"/>
<text transform="translate(443.90 188.45) scale(0.88 1)" font-size="9.0" text-anchor="end" font-weight="normal" font-style="normal" fill="#111">0.6</text>
<line x1="444.50" y1="163.50" x2="446.00" y2="163.50" stroke="#858585" stroke-width="1"/>
<text transform="translate(443.90 166.70) scale(0.88 1)" font-size="9.0" text-anchor="end" font-weight="normal" font-style="normal" fill="#111">0.8</text>
<path d="M457.25 184.3V182.5H505.25V184.3" fill="none" stroke="#858585" stroke-width="1"/>
<text transform="translate(481.25 181.10) scale(0.95 1)" font-size="8.7" text-anchor="middle" font-weight="normal" font-style="normal" fill="#111">NS</text>
<text transform="translate(474.75 151.80) scale(0.9 1)" font-size="9.5" text-anchor="middle" font-weight="normal" font-style="italic" fill="#111">NOTCH1</text>
<text transform="translate(429.70 202.40) rotate(-90) scale(0.9 1)" font-size="9.4" text-anchor="middle" font-weight="normal" font-style="normal" fill="#111">mRNA per 10<tspan font-size="6.6" dy="-3.6">3</tspan><tspan dy="3.6"> Gapdh</tspan></text>
<text transform="translate(460.82 259.10) rotate(-45) scale(0.9 1)" font-size="8.8" text-anchor="end" font-weight="normal" font-style="normal" fill="#111">Control</text>
<text transform="translate(483.82 259.10) rotate(-45) scale(0.9 1)" font-size="8.8" text-anchor="end" font-weight="normal" font-style="normal" fill="#111">WT</text>
<text transform="translate(507.57 259.10) rotate(-45) scale(0.9 1)" font-size="8.8" text-anchor="end" font-weight="normal" font-style="normal" fill="#111">S259A</text>
<line x1="42.25" y1="391.50" x2="42.25" y2="389.50" stroke="#8a8a8a" stroke-width="0.9"/>
<line x1="38.35" y1="389.50" x2="46.15" y2="389.50" stroke="#8a8a8a" stroke-width="0.9"/>
<rect x="35.00" y="392.00" width="14.50" height="10.00" fill="#ffffff" stroke="#858585" stroke-width="1"/>
<line x1="65.38" y1="383.25" x2="65.38" y2="380.75" stroke="#8a8a8a" stroke-width="0.9"/>
<line x1="61.48" y1="380.75" x2="69.28" y2="380.75" stroke="#8a8a8a" stroke-width="0.9"/>
<rect x="58.00" y="383.75" width="14.75" height="18.25" fill="#a2a2a2" stroke="#6e6e6e" stroke-width="1"/>
<line x1="89.12" y1="343.25" x2="89.12" y2="338.25" stroke="#8a8a8a" stroke-width="0.9"/>
<line x1="85.22" y1="338.25" x2="93.03" y2="338.25" stroke="#8a8a8a" stroke-width="0.9"/>
<rect x="81.25" y="343.25" width="15.75" height="58.75" fill="#000" stroke="none" stroke-width="1"/>
<line x1="29.50" y1="314.75" x2="29.50" y2="402.50" stroke="#858585" stroke-width="1"/>
<line x1="29.50" y1="402.00" x2="102.00" y2="402.00" stroke="#858585" stroke-width="1"/>
<line x1="28.00" y1="402.00" x2="29.50" y2="402.00" stroke="#858585" stroke-width="1"/>
<text transform="translate(27.40 405.20) scale(0.88 1)" font-size="9.0" text-anchor="end" font-weight="normal" font-style="normal" fill="#111">0</text>
<line x1="28.00" y1="384.65" x2="29.50" y2="384.65" stroke="#858585" stroke-width="1"/>
<text transform="translate(27.40 387.85) scale(0.88 1)" font-size="9.0" text-anchor="end" font-weight="normal" font-style="normal" fill="#111">10</text>
<line x1="28.00" y1="367.30" x2="29.50" y2="367.30" stroke="#858585" stroke-width="1"/>
<text transform="translate(27.40 370.50) scale(0.88 1)" font-size="9.0" text-anchor="end" font-weight="normal" font-style="normal" fill="#111">20</text>
<line x1="28.00" y1="349.95" x2="29.50" y2="349.95" stroke="#858585" stroke-width="1"/>
<text transform="translate(27.40 353.15) scale(0.88 1)" font-size="9.0" text-anchor="end" font-weight="normal" font-style="normal" fill="#111">30</text>
<line x1="28.00" y1="332.60" x2="29.50" y2="332.60" stroke="#858585" stroke-width="1"/>
<text transform="translate(27.40 335.80) scale(0.88 1)" font-size="9.0" text-anchor="end" font-weight="normal" font-style="normal" fill="#111">40</text>
<line x1="28.00" y1="315.25" x2="29.50" y2="315.25" stroke="#858585" stroke-width="1"/>
<text transform="translate(27.40 318.45) scale(0.88 1)" font-size="9.0" text-anchor="end" font-weight="normal" font-style="normal" fill="#111">50</text>
<path d="M40 378.8V377H66.25V378.8" fill="none" stroke="#858585" stroke-width="1"/>
<text transform="translate(53.12 375.60) scale(0.95 1)" font-size="8.7" text-anchor="middle" font-weight="normal" font-style="normal" fill="#111">P=0.015</text>
<path d="M41.25 325.8V324H89.5V325.8" fill="none" stroke="#858585" stroke-width="1"/>
<text transform="translate(65.38 322.60) scale(0.95 1)" font-size="8.7" text-anchor="middle" font-weight="normal" font-style="normal" fill="#111">P&lt;0.001</text>
<path d="M64.5 335.05V333.25H89.5V335.05" fill="none" stroke="#858585" stroke-width="1"/>
<text transform="translate(77.00 331.85) scale(0.95 1)" font-size="8.7" text-anchor="middle" font-weight="normal" font-style="normal" fill="#111">P&lt;0.001</text>
<text transform="translate(59.40 302.00) scale(0.9 1)" font-size="9.5" text-anchor="middle" font-weight="normal" font-style="italic" fill="#111">VEGFR2</text>
<text transform="translate(15.30 355.40) rotate(-90) scale(0.9 1)" font-size="9.4" text-anchor="middle" font-weight="normal" font-style="normal" fill="#111">mRNA per 10<tspan font-size="6.6" dy="-3.6">3</tspan><tspan dy="3.6"> Gapdh</tspan></text>
<text transform="translate(44.45 410.30) rotate(-45) scale(0.9 1)" font-size="8.8" text-anchor="end" font-weight="normal" font-style="normal" fill="#111">Control</text>
<text transform="translate(67.58 410.30) rotate(-45) scale(0.9 1)" font-size="8.8" text-anchor="end" font-weight="normal" font-style="normal" fill="#111">WT</text>
<text transform="translate(91.33 410.30) rotate(-45) scale(0.9 1)" font-size="8.8" text-anchor="end" font-weight="normal" font-style="normal" fill="#111">S259A</text>
<line x1="145.88" y1="336.50" x2="145.88" y2="331.50" stroke="#8a8a8a" stroke-width="0.9"/>
<line x1="141.97" y1="331.50" x2="149.78" y2="331.50" stroke="#8a8a8a" stroke-width="0.9"/>
<rect x="138.25" y="337.00" width="15.25" height="63.75" fill="#ffffff" stroke="#858585" stroke-width="1"/>
<line x1="169.12" y1="342.75" x2="169.12" y2="338.50" stroke="#8a8a8a" stroke-width="0.9"/>
<line x1="165.22" y1="338.50" x2="173.03" y2="338.50" stroke="#8a8a8a" stroke-width="0.9"/>
<rect x="161.50" y="343.25" width="15.25" height="57.50" fill="#a2a2a2" stroke="#6e6e6e" stroke-width="1"/>
<line x1="192.88" y1="325.25" x2="192.88" y2="321.50" stroke="#8a8a8a" stroke-width="0.9"/>
<line x1="188.97" y1="321.50" x2="196.78" y2="321.50" stroke="#8a8a8a" stroke-width="0.9"/>
<rect x="184.75" y="325.25" width="16.25" height="75.50" fill="#000" stroke="none" stroke-width="1"/>
<line x1="133.50" y1="313.50" x2="133.50" y2="401.25" stroke="#858585" stroke-width="1"/>
<line x1="133.50" y1="400.75" x2="206.00" y2="400.75" stroke="#858585" stroke-width="1"/>
<line x1="132.00" y1="400.75" x2="133.50" y2="400.75" stroke="#858585" stroke-width="1"/>
<text transform="translate(131.40 403.95) scale(0.88 1)" font-size="9.0" text-anchor="end" font-weight="normal" font-style="normal" fill="#111">0</text>
<line x1="132.00" y1="371.83" x2="133.50" y2="371.83" stroke="#858585" stroke-width="1"/>
<text transform="translate(131.40 375.03) scale(0.88 1)" font-size="9.0" text-anchor="end" font-weight="normal" font-style="normal" fill="#111">10</text>
<line x1="132.00" y1="342.92" x2="133.50" y2="342.92" stroke="#858585" stroke-width="1"/>
<text transform="translate(131.40 346.12) scale(0.88 1)" font-size="9.0" text-anchor="end" font-weight="normal" font-style="normal" fill="#111">20</text>
<line x1="132.00" y1="314.00" x2="133.50" y2="314.00" stroke="#858585" stroke-width="1"/>
<text transform="translate(131.40 317.20) scale(0.88 1)" font-size="9.0" text-anchor="end" font-weight="normal" font-style="normal" fill="#111">30</text>
<path d="M145.25 319.55V317.75H193.25V319.55" fill="none" stroke="#858585" stroke-width="1"/>
<text transform="translate(169.25 316.35) scale(0.95 1)" font-size="8.7" text-anchor="middle" font-weight="normal" font-style="normal" fill="#111">NS</text>
<text transform="translate(163.30 301.70) scale(0.9 1)" font-size="9.5" text-anchor="middle" font-weight="normal" font-style="italic" fill="#111">EPHB4</text>
<text transform="translate(118.60 354.60) rotate(-90) scale(0.9 1)" font-size="9.4" text-anchor="middle" font-weight="normal" font-style="normal" fill="#111">mRNA per 10<tspan font-size="6.6" dy="-3.6">3</tspan><tspan dy="3.6"> Gapdh</tspan></text>
<text transform="translate(148.07 409.05) rotate(-45) scale(0.9 1)" font-size="8.8" text-anchor="end" font-weight="normal" font-style="normal" fill="#111">Control</text>
<text transform="translate(171.32 409.05) rotate(-45) scale(0.9 1)" font-size="8.8" text-anchor="end" font-weight="normal" font-style="normal" fill="#111">WT</text>
<text transform="translate(195.07 409.05) rotate(-45) scale(0.9 1)" font-size="8.8" text-anchor="end" font-weight="normal" font-style="normal" fill="#111">S259A</text>
<line x1="253.90" y1="347.30" x2="253.90" y2="343.50" stroke="#8a8a8a" stroke-width="0.9"/>
<line x1="250.00" y1="343.50" x2="257.80" y2="343.50" stroke="#8a8a8a" stroke-width="0.9"/>
<rect x="247.00" y="347.80" width="13.80" height="52.00" fill="#ffffff" stroke="#858585" stroke-width="1"/>
<line x1="275.40" y1="338.90" x2="275.40" y2="336.50" stroke="#8a8a8a" stroke-width="0.9"/>
<line x1="271.50" y1="336.50" x2="279.30" y2="336.50" stroke="#8a8a8a" stroke-width="0.9"/>
<rect x="268.40" y="339.40" width="14.00" height="60.40" fill="#d8d8d8" stroke="#7a7a7a" stroke-width="1"/>
<rect x="289.90" y="373.20" width="14.90" height="26.60" fill="#000" stroke="none" stroke-width="1"/>
<line x1="241.90" y1="312.90" x2="241.90" y2="400.30" stroke="#858585" stroke-width="1"/>
<line x1="241.90" y1="399.80" x2="312.80" y2="399.80" stroke="#858585" stroke-width="1"/>
<line x1="240.40" y1="399.80" x2="241.90" y2="399.80" stroke="#858585" stroke-width="1"/>
<text transform="translate(239.80 403.00) scale(0.88 1)" font-size="9.0" text-anchor="end" font-weight="normal" font-style="normal" fill="#111">0</text>
<line x1="240.40" y1="387.46" x2="241.90" y2="387.46" stroke="#858585" stroke-width="1"/>
<text transform="translate(239.80 390.66) scale(0.88 1)" font-size="9.0" text-anchor="end" font-weight="normal" font-style="normal" fill="#111">100</text>
<line x1="240.40" y1="375.11" x2="241.90" y2="375.11" stroke="#858585" stroke-width="1"/>
<text transform="translate(239.80 378.31) scale(0.88 1)" font-size="9.0" text-anchor="end" font-weight="normal" font-style="normal" fill="#111">200</text>
<line x1="240.40" y1="362.77" x2="241.90" y2="362.77" stroke="#858585" stroke-width="1"/>
<text transform="translate(239.80 365.97) scale(0.88 1)" font-size="9.0" text-anchor="end" font-weight="normal" font-style="normal" fill="#111">300</text>
<line x1="240.40" y1="350.43" x2="241.90" y2="350.43" stroke="#858585" stroke-width="1"/>
<text transform="translate(239.80 353.63) scale(0.88 1)" font-size="9.0" text-anchor="end" font-weight="normal" font-style="normal" fill="#111">400</text>
<line x1="240.40" y1="338.09" x2="241.90" y2="338.09" stroke="#858585" stroke-width="1"/>
<text transform="translate(239.80 341.29) scale(0.88 1)" font-size="9.0" text-anchor="end" font-weight="normal" font-style="normal" fill="#111">500</text>
<line x1="240.40" y1="325.74" x2="241.90" y2="325.74" stroke="#858585" stroke-width="1"/>
<text transform="translate(239.80 328.94) scale(0.88 1)" font-size="9.0" text-anchor="end" font-weight="normal" font-style="normal" fill="#111">600</text>
<line x1="240.40" y1="313.40" x2="241.90" y2="313.40" stroke="#858585" stroke-width="1"/>
<text transform="translate(239.80 316.60) scale(0.88 1)" font-size="9.0" text-anchor="end" font-weight="normal" font-style="normal" fill="#111">700</text>
<path d="M252.5 323.1V321.3H297.8V323.1" fill="none" stroke="#858585" stroke-width="1"/>
<text transform="translate(280.50 319.90) scale(0.95 1)" font-size="8.7" text-anchor="middle" font-weight="normal" font-style="normal" fill="#111">P&lt;0.001</text>
<path d="M274.9 334.3V332.5H297.8V334.3" fill="none" stroke="#858585" stroke-width="1"/>
<text transform="translate(287.30 331.10) scale(0.95 1)" font-size="8.7" text-anchor="middle" font-weight="normal" font-style="normal" fill="#111">P&lt;0.001</text>
<text transform="translate(267.20 300.20) scale(0.9 1)" font-size="9.5" text-anchor="middle" font-weight="normal" font-style="italic" fill="#111">COUP-TFII</text>
<text transform="translate(224.80 355.20) rotate(-90) scale(0.9 1)" font-size="9.4" text-anchor="middle" font-weight="normal" font-style="normal" fill="#111">mRNA per <tspan font-size="10.3">10</tspan><tspan font-size="6.8" dy="-3.9">3</tspan><tspan dy="3.9" dx="0.6">Gapdh</tspan></text>
<text transform="translate(256.10 408.10) rotate(-45) scale(0.9 1)" font-size="8.8" text-anchor="end" font-weight="normal" font-style="normal" fill="#111">Control</text>
<text transform="translate(277.60 408.10) rotate(-45) scale(0.9 1)" font-size="8.8" text-anchor="end" font-weight="normal" font-style="normal" fill="#111">WT</text>
<text transform="translate(299.55 408.10) rotate(-45) scale(0.9 1)" font-size="8.8" text-anchor="end" font-weight="normal" font-style="normal" fill="#111">S259A</text>
<text transform="translate(4.00 9.00)" font-size="11" text-anchor="start" font-weight="bold" font-style="normal" fill="#111">A</text>
<text transform="translate(370.00 297.40) scale(0.97 1)" font-size="11.6" text-anchor="start" font-weight="bold" font-style="normal" fill="#111">B</text>
<text transform="translate(3.70 450.10) scale(0.92 1)" font-size="12.6" text-anchor="start" font-weight="bold" font-style="normal" fill="#111">C</text>
<text transform="translate(239.60 449.10) scale(0.97 1)" font-size="11.6" text-anchor="start" font-weight="bold" font-style="normal" fill="#111">D</text>
<line x1="262.80" y1="467.50" x2="262.80" y2="546.80" stroke="#858585" stroke-width="1"/>
<line x1="262.80" y1="546.30" x2="326.00" y2="546.30" stroke="#858585" stroke-width="1"/>
<line x1="261.30" y1="546.30" x2="262.80" y2="546.30" stroke="#858585" stroke-width="1"/>
<text transform="translate(260.70 549.50) scale(0.88 1)" font-size="9.0" text-anchor="end" font-weight="normal" font-style="normal" fill="#111">0</text>
<line x1="261.30" y1="520.20" x2="262.80" y2="520.20" stroke="#858585" stroke-width="1"/>
<text transform="translate(260.70 523.40) scale(0.88 1)" font-size="9.0" text-anchor="end" font-weight="normal" font-style="normal" fill="#111">5</text>
<line x1="261.30" y1="494.10" x2="262.80" y2="494.10" stroke="#858585" stroke-width="1"/>
<text transform="translate(260.70 497.30) scale(0.88 1)" font-size="9.0" text-anchor="end" font-weight="normal" font-style="normal" fill="#111">10</text>
<line x1="261.30" y1="468.00" x2="262.80" y2="468.00" stroke="#858585" stroke-width="1"/>
<text transform="translate(260.70 471.20) scale(0.88 1)" font-size="9.0" text-anchor="end" font-weight="normal" font-style="normal" fill="#111">15</text>
<line x1="267.30" y1="517.30" x2="289.20" y2="517.30" stroke="#555" stroke-width="1"/>
<line x1="278.40" y1="513.50" x2="278.40" y2="521.10" stroke="#555" stroke-width="1"/>
<line x1="273.00" y1="513.50" x2="284.00" y2="513.50" stroke="#555" stroke-width="1"/>
<line x1="273.00" y1="521.10" x2="284.00" y2="521.10" stroke="#555" stroke-width="1"/>
<line x1="299.80" y1="491.10" x2="319.80" y2="491.10" stroke="#555" stroke-width="1"/>
<line x1="309.50" y1="485.40" x2="309.50" y2="497.20" stroke="#555" stroke-width="1"/>
<line x1="304.50" y1="485.40" x2="314.90" y2="485.40" stroke="#555" stroke-width="1"/>
<line x1="304.50" y1="497.20" x2="314.90" y2="497.20" stroke="#555" stroke-width="1"/>
<circle cx="278.1" cy="494.1" r="1.3" fill="#000"/>
<circle cx="280.7" cy="506.6" r="1.3" fill="#000"/>
<circle cx="278.1" cy="508.5" r="1.3" fill="#000"/>
<circle cx="276" cy="514.4" r="1.3" fill="#000"/>
<circle cx="278.6" cy="514.8" r="1.3" fill="#000"/>
<circle cx="278.3" cy="523.3" r="1.3" fill="#000"/>
<circle cx="276.2" cy="526.7" r="1.3" fill="#000"/>
<circle cx="281" cy="526.7" r="1.3" fill="#000"/>
<circle cx="278.1" cy="530.9" r="1.3" fill="#000"/>
<circle cx="309.3" cy="475.8" r="1.3" fill="#000"/>
<circle cx="307.1" cy="481.6" r="1.3" fill="#000"/>
<circle cx="309.9" cy="483.6" r="1.3" fill="#000"/>
<circle cx="309.3" cy="489.7" r="1.3" fill="#000"/>
<circle cx="309.3" cy="503.3" r="1.3" fill="#000"/>
<circle cx="309.3" cy="513.7" r="1.3" fill="#000"/>
<path d="M278.4 472.1V470.3H309.2V472.1" fill="none" stroke="#858585" stroke-width="1"/>
<text transform="translate(293.80 468.90) scale(0.95 1)" font-size="8.7" text-anchor="middle" font-weight="normal" font-style="normal" fill="#111">P&lt;0.05</text>
<text transform="translate(281.50 455.70) scale(0.9 1)" font-size="9.5" text-anchor="middle" font-weight="normal" font-style="italic" fill="#111">Efnb2</text>
<text transform="translate(249.40 503.80) rotate(-90) scale(0.9 1)" font-size="9.4" text-anchor="middle" font-weight="normal" font-style="normal" fill="#111">mRNA per 10<tspan font-size="6.6" dy="-3.6">3</tspan><tspan dy="3.6"> Gapdh</tspan></text>
<text transform="translate(280.60 556.30) rotate(-45) scale(0.9 1)" font-size="8.8" text-anchor="end" font-weight="normal" font-style="normal" fill="#111">Control</text>
<line x1="278.10" y1="546.30" x2="278.10" y2="548.30" stroke="#858585" stroke-width="1"/>
<text transform="translate(311.80 556.30) rotate(-45) scale(0.9 1)" font-size="8.8" text-anchor="end" font-weight="normal" font-style="normal" fill="#111">S259A</text>
<line x1="309.30" y1="546.30" x2="309.30" y2="548.30" stroke="#858585" stroke-width="1"/>
<line x1="364.10" y1="468.60" x2="364.10" y2="548.80" stroke="#858585" stroke-width="1"/>
<line x1="364.10" y1="548.30" x2="426.00" y2="548.30" stroke="#858585" stroke-width="1"/>
<line x1="362.60" y1="548.30" x2="364.10" y2="548.30" stroke="#858585" stroke-width="1"/>
<text transform="translate(362.00 551.50) scale(0.88 1)" font-size="9.0" text-anchor="end" font-weight="normal" font-style="normal" fill="#111">0</text>
<line x1="362.60" y1="521.90" x2="364.10" y2="521.90" stroke="#858585" stroke-width="1"/>
<text transform="translate(362.00 525.10) scale(0.88 1)" font-size="9.0" text-anchor="end" font-weight="normal" font-style="normal" fill="#111">5</text>
<line x1="362.60" y1="495.50" x2="364.10" y2="495.50" stroke="#858585" stroke-width="1"/>
<text transform="translate(362.00 498.70) scale(0.88 1)" font-size="9.0" text-anchor="end" font-weight="normal" font-style="normal" fill="#111">10</text>
<line x1="362.60" y1="469.10" x2="364.10" y2="469.10" stroke="#858585" stroke-width="1"/>
<text transform="translate(362.00 472.30) scale(0.88 1)" font-size="9.0" text-anchor="end" font-weight="normal" font-style="normal" fill="#111">15</text>
<line x1="369.00" y1="512.30" x2="389.80" y2="512.30" stroke="#7a7a7a" stroke-width="1"/>
<line x1="379.40" y1="509.60" x2="379.40" y2="515.10" stroke="#7a7a7a" stroke-width="1"/>
<line x1="374.00" y1="509.60" x2="384.60" y2="509.60" stroke="#7a7a7a" stroke-width="1"/>
<line x1="374.00" y1="515.10" x2="384.60" y2="515.10" stroke="#7a7a7a" stroke-width="1"/>
<line x1="400.20" y1="521.10" x2="421.00" y2="521.10" stroke="#7a7a7a" stroke-width="1"/>
<line x1="410.60" y1="519.40" x2="410.60" y2="523.40" stroke="#7a7a7a" stroke-width="1"/>
<line x1="405.40" y1="519.40" x2="415.80" y2="519.40" stroke="#7a7a7a" stroke-width="1"/>
<line x1="405.40" y1="523.40" x2="415.80" y2="523.40" stroke="#7a7a7a" stroke-width="1"/>
<circle cx="382.1" cy="497.5" r="1.3" fill="#000"/>
<circle cx="379.2" cy="499" r="1.3" fill="#000"/>
<circle cx="376.9" cy="508.2" r="1.3" fill="#000"/>
<circle cx="379.4" cy="509.8" r="1.3" fill="#000"/>
<circle cx="379.4" cy="515.6" r="1.3" fill="#000"/>
<circle cx="382.1" cy="515.1" r="1.3" fill="#000"/>
<circle cx="376.9" cy="518" r="1.3" fill="#000"/>
<circle cx="379.4" cy="518.6" r="1.3" fill="#000"/>
<circle cx="382.1" cy="520.6" r="1.3" fill="#000"/>
<circle cx="379.4" cy="522.1" r="1.3" fill="#000"/>
<circle cx="407.9" cy="515.1" r="1.3" fill="#000"/>
<circle cx="410.8" cy="517.3" r="1.3" fill="#000"/>
<circle cx="410.8" cy="520.3" r="1.3" fill="#000"/>
<circle cx="407.9" cy="522.3" r="1.3" fill="#000"/>
<circle cx="410.8" cy="524" r="1.3" fill="#000"/>
<circle cx="410.8" cy="527.5" r="1.3" fill="#000"/>
<path d="M379.4 493.2V491.4H410.3V493.2" fill="none" stroke="#858585" stroke-width="1"/>
<text transform="translate(394.85 490.00) scale(0.95 1)" font-size="8.7" text-anchor="middle" font-weight="normal" font-style="normal" fill="#111">P&lt;0.05</text>
<text transform="translate(389.20 457.10) scale(0.9 1)" font-size="9.5" text-anchor="middle" font-weight="normal" font-style="italic" fill="#111">EphB4</text>
<text transform="translate(350.50 505.50) rotate(-90) scale(0.9 1)" font-size="9.4" text-anchor="middle" font-weight="normal" font-style="normal" fill="#111">mRNA per 10<tspan font-size="6.6" dy="-3.6">3</tspan><tspan dy="3.6"> Gapdh</tspan></text>
<text transform="translate(381.90 558.30) rotate(-45) scale(0.9 1)" font-size="8.8" text-anchor="end" font-weight="normal" font-style="normal" fill="#111">Control</text>
<line x1="379.40" y1="548.30" x2="379.40" y2="550.30" stroke="#858585" stroke-width="1"/>
<text transform="translate(412.80 558.30) rotate(-45) scale(0.9 1)" font-size="8.8" text-anchor="end" font-weight="normal" font-style="normal" fill="#111">S259A</text>
<line x1="410.30" y1="548.30" x2="410.30" y2="550.30" stroke="#858585" stroke-width="1"/>
<line x1="456.90" y1="467.75" x2="456.90" y2="547.10" stroke="#858585" stroke-width="1"/>
<line x1="456.90" y1="546.60" x2="519.00" y2="546.60" stroke="#858585" stroke-width="1"/>
<line x1="455.40" y1="546.60" x2="456.90" y2="546.60" stroke="#858585" stroke-width="1"/>
<text transform="translate(454.80 549.80) scale(0.88 1)" font-size="9.0" text-anchor="end" font-weight="normal" font-style="normal" fill="#111">0</text>
<line x1="455.40" y1="520.48" x2="456.90" y2="520.48" stroke="#858585" stroke-width="1"/>
<text transform="translate(454.80 523.68) scale(0.88 1)" font-size="9.0" text-anchor="end" font-weight="normal" font-style="normal" fill="#111">2</text>
<line x1="455.40" y1="494.37" x2="456.90" y2="494.37" stroke="#858585" stroke-width="1"/>
<text transform="translate(454.80 497.57) scale(0.88 1)" font-size="9.0" text-anchor="end" font-weight="normal" font-style="normal" fill="#111">4</text>
<line x1="455.40" y1="468.25" x2="456.90" y2="468.25" stroke="#858585" stroke-width="1"/>
<text transform="translate(454.80 471.45) scale(0.88 1)" font-size="9.0" text-anchor="end" font-weight="normal" font-style="normal" fill="#111">6</text>
<line x1="461.80" y1="497.00" x2="483.10" y2="497.00" stroke="#777" stroke-width="1"/>
<line x1="472.20" y1="492.00" x2="472.20" y2="501.50" stroke="#777" stroke-width="1"/>
<line x1="467.30" y1="492.00" x2="477.60" y2="492.00" stroke="#777" stroke-width="1"/>
<line x1="467.30" y1="501.50" x2="477.60" y2="501.50" stroke="#777" stroke-width="1"/>
<line x1="492.80" y1="491.50" x2="514.10" y2="491.50" stroke="#777" stroke-width="1"/>
<line x1="503.50" y1="488.10" x2="503.50" y2="495.10" stroke="#777" stroke-width="1"/>
<line x1="498.30" y1="488.10" x2="508.60" y2="488.10" stroke="#777" stroke-width="1"/>
<line x1="498.30" y1="495.10" x2="508.60" y2="495.10" stroke="#777" stroke-width="1"/>
<circle cx="472.2" cy="473.3" r="1.3" fill="#000"/>
<circle cx="472.2" cy="486" r="1.3" fill="#000"/>
<circle cx="469.7" cy="488.3" r="1.3" fill="#000"/>
<circle cx="472.2" cy="489.6" r="1.3" fill="#000"/>
<circle cx="472.2" cy="493" r="1.3" fill="#000"/>
<circle cx="472.2" cy="499" r="1.3" fill="#000"/>
<circle cx="474.8" cy="500.8" r="1.3" fill="#000"/>
<circle cx="472.2" cy="502" r="1.3" fill="#000"/>
<circle cx="472.2" cy="505.3" r="1.3" fill="#000"/>
<circle cx="472.2" cy="531.2" r="1.3" fill="#000"/>
<circle cx="503.5" cy="480.6" r="1.3" fill="#000"/>
<circle cx="505.9" cy="485" r="1.3" fill="#000"/>
<circle cx="503.5" cy="487.5" r="1.3" fill="#000"/>
<circle cx="503.5" cy="496.8" r="1.3" fill="#000"/>
<circle cx="505.9" cy="498.8" r="1.3" fill="#000"/>
<circle cx="503.5" cy="501.1" r="1.3" fill="#000"/>
<text transform="translate(484.60 454.60) scale(0.9 1)" font-size="9.5" text-anchor="middle" font-weight="normal" font-style="italic" fill="#111">Pecam1</text>
<text transform="translate(446.30 504.30) rotate(-90) scale(0.9 1)" font-size="9.4" text-anchor="middle" font-weight="normal" font-style="normal" fill="#111">mRNA per 10<tspan font-size="6.6" dy="-3.6">3</tspan><tspan dy="3.6"> Gapdh</tspan></text>
<text transform="translate(474.80 556.60) rotate(-45) scale(0.9 1)" font-size="8.8" text-anchor="end" font-weight="normal" font-style="normal" fill="#111">Control</text>
<line x1="472.30" y1="546.60" x2="472.30" y2="548.60" stroke="#858585" stroke-width="1"/>
<text transform="translate(506.10 556.60) rotate(-45) scale(0.9 1)" font-size="8.8" text-anchor="end" font-weight="normal" font-style="normal" fill="#111">S259A</text>
<line x1="503.60" y1="546.60" x2="503.60" y2="548.60" stroke="#858585" stroke-width="1"/>
<defs><filter id="bl" x="-50%" y="-100%" width="200%" height="300%"><feGaussianBlur stdDeviation="0.8 0.55"/></filter><filter id="bl2" x="-50%" y="-100%" width="200%" height="300%"><feGaussianBlur stdDeviation="1.1 0.9"/></filter></defs>
<rect x="377.8" y="316" width="43.0" height="27.3" fill="#8e8e8e"/>
<rect x="378.8" y="317" width="41.0" height="11.3" fill="#b6b6b6"/>
<rect x="378.8" y="318" width="41.0" height="1.2" fill="#c8c8c8" opacity="0.7"/>
<rect x="407" y="321.2" width="11.699999999999989" height="4.2" rx="2.1" fill="#939393" opacity="1" filter="url(#bl)"/>
<rect x="394" y="321.75" width="11" height="3.5" rx="1.75" fill="#acacac" opacity="1" filter="url(#bl)"/>
<rect x="378.8" y="330.3" width="41.0" height="12" fill="#c0c0c0"/>
<rect x="378.8" y="338.5" width="41.0" height="3.8" fill="#b0b0b0"/>
<rect x="380" y="334.1" width="10.5" height="3" rx="1.5" fill="#a4a4a4" opacity="1" filter="url(#bl)"/>
<rect x="393.5" y="334.1" width="11.5" height="3" rx="1.5" fill="#8e8e8e" opacity="1" filter="url(#bl)"/>
<rect x="407.5" y="334.1" width="11.5" height="3" rx="1.5" fill="#5c5c5c" opacity="1" filter="url(#bl)"/>
<rect x="378.3" y="343.8" width="42.0" height="35.39999999999998" fill="#e3e3e3" stroke="#9a9a9a" stroke-width="1"/>
<rect x="381" y="347.8" width="10" height="2" rx="1.0" fill="#d0d0d0" opacity="1" filter="url(#bl)"/>
<rect x="394" y="347.8" width="10" height="2" rx="1.0" fill="#d0d0d0" opacity="1" filter="url(#bl)"/>
<rect x="407" y="347.8" width="11" height="2" rx="1.0" fill="#d2d2d2" opacity="1" filter="url(#bl)"/>
<rect x="380.2" y="369.8" width="10.699999999999989" height="2.6" rx="0.8" fill="#262626" opacity="1" filter="url(#bl)"/>
<rect x="393.4" y="369.8" width="10.800000000000011" height="2.6" rx="0.8" fill="#262626" opacity="1" filter="url(#bl)"/>
<rect x="406.7" y="370.09999999999997" width="11.100000000000023" height="2.2" rx="0.8" fill="#5a5a5a" opacity="1" filter="url(#bl)"/>
<rect x="381" y="373.70000000000005" width="10" height="1.8" rx="0.9" fill="#c4c4c4" opacity="1" filter="url(#bl)"/>
<rect x="394" y="373.70000000000005" width="10" height="1.8" rx="0.9" fill="#c4c4c4" opacity="1" filter="url(#bl)"/>
<rect x="407" y="373.70000000000005" width="11" height="1.8" rx="0.9" fill="#cdcdcd" opacity="1" filter="url(#bl)"/>
<rect x="378.3" y="381.9" width="42.0" height="11.200000000000045" fill="#ededed" stroke="#9a9a9a" stroke-width="1"/>
<rect x="394.5" y="385.8" width="10.5" height="1.8" rx="0.9" fill="#cfcfcf" opacity="1" filter="url(#bl)"/>
<rect x="394.5" y="389.0" width="10.5" height="1.8" rx="0.9" fill="#c4c4c4" opacity="1" filter="url(#bl)"/>
<rect x="407" y="385.5" width="11.5" height="2.4" rx="0.8" fill="#666" opacity="1" filter="url(#bl)"/>
<rect x="407" y="388.59999999999997" width="11.5" height="2.6" rx="0.8" fill="#050505" opacity="1" filter="url(#bl)"/>
<rect x="378.3" y="395.7" width="42.0" height="11.800000000000011" fill="#e4e4e4" stroke="#9a9a9a" stroke-width="1"/>
<rect x="380" y="399.0" width="11" height="2.0" rx="0.8" fill="#a2a2a2" opacity="1" filter="url(#bl)"/>
<rect x="380" y="402.3" width="11" height="2.4" rx="0.8" fill="#585858" opacity="1" filter="url(#bl)"/>
<rect x="393.5" y="399.0" width="11.0" height="2.0" rx="0.8" fill="#a2a2a2" opacity="1" filter="url(#bl)"/>
<rect x="393.5" y="402.3" width="11.0" height="2.4" rx="0.8" fill="#646464" opacity="1" filter="url(#bl)"/>
<rect x="407" y="399.0" width="11" height="2.0" rx="0.8" fill="#979797" opacity="1" filter="url(#bl)"/>
<rect x="407" y="402.3" width="11" height="2.4" rx="0.8" fill="#858585" opacity="1" filter="url(#bl)"/>
<rect x="378.3" y="409.6" width="42.0" height="10.5" fill="#6a6a6a" stroke="#555" stroke-width="1"/>
<rect x="394.9" y="414.0" width="11.300000000000011" height="2.6" rx="0.8" fill="#181818" opacity="1" filter="url(#bl)"/>
<rect x="407.9" y="414.0" width="11.0" height="2.6" rx="0.8" fill="#202020" opacity="1" filter="url(#bl)"/>
<text transform="translate(385.10 314.20) rotate(-45) scale(0.92 1)" font-size="10.2" text-anchor="start" font-weight="normal" font-style="normal" fill="#111">Control</text>
<text transform="translate(399.30 314.80) rotate(-45) scale(0.92 1)" font-size="10.2" text-anchor="start" font-weight="normal" font-style="normal" fill="#111">WT</text>
<text transform="translate(414.20 315.20) rotate(-45) scale(0.92 1)" font-size="10.5" text-anchor="start" font-weight="normal" font-style="normal" fill="#111">S259A</text>
<text transform="translate(423.00 326.80)" font-size="9.5" text-anchor="start" font-weight="normal" font-style="normal" fill="#111" letter-spacing="0.25">DLL4</text>
<text transform="translate(423.00 339.90)" font-size="9.5" text-anchor="start" font-weight="normal" font-style="normal" fill="#111" letter-spacing="0.25">Cleaved Notch1</text>
<text transform="translate(423.00 352.80)" font-size="9.5" text-anchor="start" font-weight="normal" font-style="normal" fill="#111" letter-spacing="0.25">Notch1 (FL)</text>
<text transform="translate(423.00 375.00)" font-size="9.5" text-anchor="start" font-weight="normal" font-style="normal" fill="#111" letter-spacing="0.25">Notch1 (NTM)</text>
<text transform="translate(423.00 390.80)" font-size="9.5" text-anchor="start" font-weight="normal" font-style="normal" fill="#111" letter-spacing="0.25">pERK1/2</text>
<text transform="translate(423.00 405.00)" font-size="9.5" text-anchor="start" font-weight="normal" font-style="normal" fill="#111" letter-spacing="0.25">ERK1/2</text>
<text transform="translate(423.00 419.10)" font-size="9.5" text-anchor="start" font-weight="normal" font-style="normal" fill="#111" letter-spacing="0.25">HA</text>
<rect x="9.1" y="482.6" width="157.9" height="76.8" fill="#999"/>
<rect x="9.6" y="483.1" width="156.9" height="17.599999999999966" fill="#d6d6d6" stroke="#9a9a9a" stroke-width="1"/>
<rect x="12.8" y="490.1" width="14.599999999999998" height="6.4" rx="1.5" fill="#c0c0c0" opacity="1" filter="url(#bl2)"/>
<rect x="32.4" y="490.1" width="15.200000000000003" height="6.4" rx="1.5" fill="#bababa" opacity="1" filter="url(#bl2)"/>
<rect x="52.4" y="490.1" width="15.500000000000007" height="6.4" rx="1.5" fill="#b8b8b8" opacity="1" filter="url(#bl2)"/>
<rect x="72.6" y="490.1" width="14.600000000000009" height="6.4" rx="1.5" fill="#b4b4b4" opacity="1" filter="url(#bl2)"/>
<rect x="94.6" y="490.1" width="14.100000000000009" height="6.4" rx="1.5" fill="#c6c6c6" opacity="1" filter="url(#bl2)"/>
<rect x="113.6" y="490.1" width="14.400000000000006" height="6.4" rx="1.5" fill="#a8a8a8" opacity="1" filter="url(#bl2)"/>
<rect x="132.8" y="490.1" width="14.699999999999989" height="6.4" rx="1.5" fill="#8a8a8a" opacity="1" filter="url(#bl2)"/>
<rect x="151.2" y="490.1" width="12.600000000000023" height="6.4" rx="1.5" fill="#585858" opacity="1" filter="url(#bl2)"/>
<rect x="9.6" y="502.3" width="156.9" height="17.80000000000001" fill="#dadada" stroke="#9a9a9a" stroke-width="1"/>
<rect x="12.8" y="510.3" width="14.599999999999998" height="4.6" rx="1.2" fill="#d0d0d0" opacity="1" filter="url(#bl2)"/>
<rect x="32.4" y="510.3" width="15.200000000000003" height="4.6" rx="1.2" fill="#d2d2d2" opacity="1" filter="url(#bl2)"/>
<rect x="52.4" y="510.3" width="15.500000000000007" height="4.6" rx="1.2" fill="#d4d4d4" opacity="1" filter="url(#bl2)"/>
<rect x="72.6" y="510.3" width="14.600000000000009" height="4.6" rx="1.2" fill="#d0d0d0" opacity="1" filter="url(#bl2)"/>
<rect x="94.6" y="510.3" width="14.100000000000009" height="4.6" rx="1.2" fill="#c8c8c8" opacity="1" filter="url(#bl2)"/>
<rect x="113.6" y="510.3" width="14.400000000000006" height="4.6" rx="1.2" fill="#a4a4a4" opacity="1" filter="url(#bl2)"/>
<rect x="132.8" y="510.3" width="14.699999999999989" height="4.6" rx="1.2" fill="#787878" opacity="1" filter="url(#bl2)"/>
<rect x="151.2" y="510.3" width="12.600000000000023" height="4.6" rx="1.2" fill="#151515" opacity="1" filter="url(#bl2)"/>
<rect x="9.6" y="521.9" width="156.9" height="18.200000000000045" fill="#eeeeee" stroke="#9a9a9a" stroke-width="1"/>
<rect x="12.8" y="529.1999999999999" width="14.599999999999998" height="4.4" rx="1" fill="#ababab" opacity="1" filter="url(#bl2)"/>
<rect x="12.8" y="529.6" width="14.599999999999998" height="1.6" rx="0.6" fill="#8c8c8c" opacity="1" filter="url(#bl)"/>
<rect x="12.8" y="531.7" width="14.599999999999998" height="1.8" rx="0.6" fill="#8c8c8c" opacity="1" filter="url(#bl)"/>
<rect x="32.4" y="529.1999999999999" width="15.200000000000003" height="4.4" rx="1" fill="#ababab" opacity="1" filter="url(#bl2)"/>
<rect x="32.4" y="529.6" width="15.200000000000003" height="1.6" rx="0.6" fill="#8c8c8c" opacity="1" filter="url(#bl)"/>
<rect x="32.4" y="531.7" width="15.200000000000003" height="1.8" rx="0.6" fill="#8c8c8c" opacity="1" filter="url(#bl)"/>
<rect x="52.4" y="529.1999999999999" width="15.500000000000007" height="4.4" rx="1" fill="#ababab" opacity="1" filter="url(#bl2)"/>
<rect x="52.4" y="529.6" width="15.500000000000007" height="1.6" rx="0.6" fill="#8c8c8c" opacity="1" filter="url(#bl)"/>
<rect x="52.4" y="531.7" width="15.500000000000007" height="1.8" rx="0.6" fill="#8c8c8c" opacity="1" filter="url(#bl)"/>
<rect x="72.6" y="529.1999999999999" width="14.600000000000009" height="4.4" rx="1" fill="#ababab" opacity="1" filter="url(#bl2)"/>
<rect x="72.6" y="529.6" width="14.600000000000009" height="1.6" rx="0.6" fill="#959595" opacity="1" filter="url(#bl)"/>
<rect x="72.6" y="531.7" width="14.600000000000009" height="1.8" rx="0.6" fill="#959595" opacity="1" filter="url(#bl)"/>
<rect x="94.6" y="529.1999999999999" width="14.100000000000009" height="4.4" rx="1" fill="#ababab" opacity="1" filter="url(#bl2)"/>
<rect x="94.6" y="529.6" width="14.100000000000009" height="1.6" rx="0.6" fill="#8c8c8c" opacity="1" filter="url(#bl)"/>
<rect x="94.6" y="531.7" width="14.100000000000009" height="1.8" rx="0.6" fill="#8c8c8c" opacity="1" filter="url(#bl)"/>
<rect x="113.6" y="529.1999999999999" width="14.400000000000006" height="4.4" rx="1" fill="#ababab" opacity="1" filter="url(#bl2)"/>
<rect x="113.6" y="529.6" width="14.400000000000006" height="1.6" rx="0.6" fill="#9a9a9a" opacity="1" filter="url(#bl)"/>
<rect x="113.6" y="531.7" width="14.400000000000006" height="1.8" rx="0.6" fill="#9a9a9a" opacity="1" filter="url(#bl)"/>
<rect x="132.8" y="529.1999999999999" width="14.699999999999989" height="4.4" rx="1" fill="#ababab" opacity="1" filter="url(#bl2)"/>
<rect x="132.8" y="529.6" width="14.699999999999989" height="1.6" rx="0.6" fill="#9a9a9a" opacity="1" filter="url(#bl)"/>
<rect x="132.8" y="531.7" width="14.699999999999989" height="1.8" rx="0.6" fill="#9a9a9a" opacity="1" filter="url(#bl)"/>
<rect x="151.2" y="529.1999999999999" width="12.600000000000023" height="4.4" rx="1" fill="#ababab" opacity="1" filter="url(#bl2)"/>
<rect x="151.2" y="529.6" width="12.600000000000023" height="1.6" rx="0.6" fill="#acacac" opacity="1" filter="url(#bl)"/>
<rect x="151.2" y="531.7" width="12.600000000000023" height="1.8" rx="0.6" fill="#acacac" opacity="1" filter="url(#bl)"/>
<rect x="9.6" y="541.7" width="156.9" height="17.199999999999932" fill="#cecece" stroke="#9a9a9a" stroke-width="1"/>
<rect x="12.8" y="550.3000000000001" width="14.599999999999998" height="3.6" rx="1" fill="#cecece" opacity="1" filter="url(#bl2)"/>
<rect x="32.4" y="550.3000000000001" width="15.200000000000003" height="3.6" rx="1" fill="#cacaca" opacity="1" filter="url(#bl2)"/>
<rect x="52.4" y="550.3000000000001" width="15.500000000000007" height="3.6" rx="1" fill="#bababa" opacity="1" filter="url(#bl2)"/>
<rect x="72.6" y="550.3000000000001" width="14.600000000000009" height="3.6" rx="1" fill="#787878" opacity="1" filter="url(#bl2)"/>
<rect x="94.6" y="550.3000000000001" width="14.100000000000009" height="3.6" rx="1" fill="#cecece" opacity="1" filter="url(#bl2)"/>
<rect x="113.6" y="550.3000000000001" width="14.400000000000006" height="3.6" rx="1" fill="#b4b4b4" opacity="1" filter="url(#bl2)"/>
<rect x="132.8" y="550.3000000000001" width="14.699999999999989" height="3.6" rx="1" fill="#747474" opacity="1" filter="url(#bl2)"/>
<rect x="151.2" y="550.3000000000001" width="12.600000000000023" height="3.6" rx="1" fill="#1e1e1e" opacity="1" filter="url(#bl2)"/>
<path d="M33.2 480.3 L86.5 474.1 L86.5 480.6 Z" fill="#000"/>
<path d="M113.3 480.3 L165.5 474.0 L165.5 480.4 Z" fill="#000"/>
<text transform="translate(60.60 470.80)" font-size="9.1" text-anchor="middle" font-weight="normal" font-style="normal" fill="#111">WT</text>
<text transform="translate(137.50 471.90)" font-size="9.1" text-anchor="middle" font-weight="normal" font-style="normal" fill="#111">S259A</text>
<text transform="translate(22.00 478.50) rotate(-45) scale(0.9 1)" font-size="10" text-anchor="start" font-weight="normal" font-style="normal" fill="#111">Untreated</text>
<text transform="translate(102.30 481.00) rotate(-45) scale(0.9 1)" font-size="10" text-anchor="start" font-weight="normal" font-style="normal" fill="#111">Untreated</text>
<text transform="translate(170.80 496.40) scale(0.89 1)" font-size="10.4" text-anchor="start" font-weight="normal" font-style="normal" fill="#111">DLL4</text>
<text transform="translate(170.80 516.20) scale(0.89 1)" font-size="10.4" text-anchor="start" font-weight="normal" font-style="normal" fill="#111">pERK1/2</text>
<text transform="translate(170.80 535.30) scale(0.89 1)" font-size="10.4" text-anchor="start" font-weight="normal" font-style="normal" fill="#111">Total ERK1/2</text>
<text transform="translate(170.80 553.80) scale(0.89 1)" font-size="10.4" text-anchor="start" font-weight="normal" font-style="normal" fill="#111">HA</text>
</svg>
</body></html>
